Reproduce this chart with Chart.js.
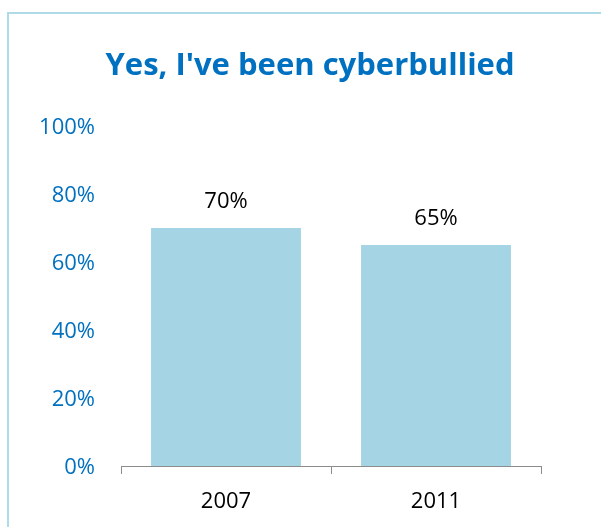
<!DOCTYPE html>
<html>
<head>
<meta charset="utf-8">
<script src="https://cdn.jsdelivr.net/npm/chart.js@4"></script>
<style>
html, body { margin: 0; padding: 0; background: #fff; overflow: hidden; }
#frame { position: absolute; left: 7px; top: 12px; width: 700px; height: 600px; border: 2px solid #AEDBE8; }
#wrap { position: absolute; left: 0; top: 0; width: 601px; height: 527px; }
</style>
</head>
<body>
<div id="frame"></div>
<div id="wrap"><canvas id="chart"></canvas></div>
<script>
const categories = ['2007', '2011'];
const cyberbullied = [70, 65];
const yTicks = [0, 20, 40, 60, 80, 100];

// value labels above each bar
const barLabels = {
    id: 'barLabels',
    afterDatasetsDraw(chart) {
        const ctx = chart.ctx;
        const meta = chart.getDatasetMeta(0);
        ctx.save();
        ctx.font = '22px "Open Sans"';
        ctx.fillStyle = '#000';
        ctx.textAlign = 'center';
        ctx.textBaseline = 'alphabetic';
        meta.data.forEach((bar, i) => {
            ctx.fillText(cyberbullied[i] + '%', bar.x, bar.y - 20);
        });
        ctx.restore();
    }
};

const ctx = document.getElementById('chart').getContext('2d');
new Chart(ctx, {
    type: 'bar',
    data: {
        labels: categories,
        datasets: [{
            data: cyberbullied,
            backgroundColor: '#A5D5E4',
            categoryPercentage: 1,
            barPercentage: 0.714
        }]
    },
    options: {
        responsive: true,
        maintainAspectRatio: false,
        animation: false,
        layout: { padding: { left: 19, right: 0, top: 0, bottom: 0 } },
        plugins: {
            legend: { display: false },
            tooltip: { enabled: false },
            title: {
                display: true,
                text: "Yes, I've been cyberbullied",
                color: '#0070C0',
                font: { family: 'Open Sans', size: 31, weight: 'bold' },
                padding: { top: 47.4, bottom: 41.4 }
            }
        },
        scales: {
            x: {
                grid: { display: true, drawOnChartArea: false, drawTicks: true, tickLength: 8, color: '#8C8C8C' },
                border: { display: true, color: '#8C8C8C', width: 1 },
                ticks: { color: '#000', padding: 15, font: { family: 'Open Sans', size: 22 } },
                afterFit: s => { s.height = 61; }
            },
            y: {
                min: 0,
                max: 100,
                grid: { display: false, drawTicks: false },
                border: { display: false },
                afterBuildTicks: s => { s.ticks = yTicks.map(v => ({ value: v })); },
                ticks: {
                    color: '#0070C0',
                    padding: 26,
                    labelOffset: 2,
                    font: { family: 'Open Sans', size: 22 },
                    callback: v => v + '%'
                },
                afterFit: s => { s.width = 102; }
            },
            yRight: {
                position: 'right',
                display: true,
                grid: { display: false, drawTicks: false },
                border: { display: false },
                ticks: { display: false },
                afterFit: s => { s.width = 60; }
            }
        }
    },
    plugins: [barLabels]
});
</script>
</body>
</html>
